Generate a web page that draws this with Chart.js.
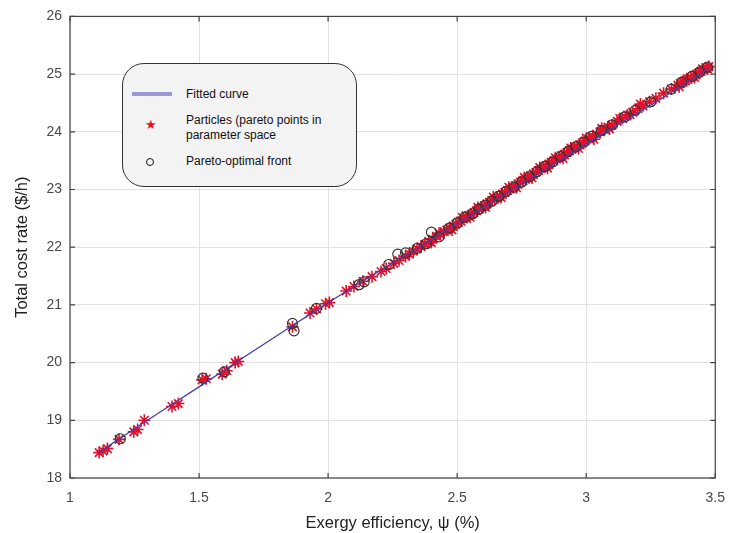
<!DOCTYPE html>
<html>
<head>
<meta charset="utf-8">
<script src="https://cdn.jsdelivr.net/npm/chart.js@4.4.0/dist/chart.umd.min.js"></script>
<style>
  body { margin: 0; background: #fff; }
  #wrap { position: relative; width: 737px; height: 533px; }
  #legendBox {
    position: absolute; left: 122px; top: 63px; width: 233px; height: 122px;
    border: 1.5px solid #333; border-radius: 22px; background: #f3f3f3;
    font-family: "Liberation Sans", Arial, sans-serif; font-size: 12px; color: #111;
  }
  .lg { position: absolute; left: 63px; line-height: 15px; }
</style>
</head>
<body>
<div id="wrap">
  <canvas id="costChart" width="737" height="533"></canvas>
  <div id="legendBox">
    <div style="position:absolute;left:9px;top:28px;width:40px;height:4px;background:#9d98d3;"></div>
    <div class="lg" style="top:23px;">Fitted curve</div>
    <div style="position:absolute;left:22px;top:54px;color:#e8101c;font-size:13px;line-height:14px;">&#9733;</div>
    <div class="lg" style="top:49px;">Particles (pareto points in<br>parameter space</div>
    <div style="position:absolute;left:23px;top:94px;width:6px;height:6px;border:1.5px solid #111;border-radius:50%;"></div>
    <div class="lg" style="top:90px;">Pareto-optimal front</div>
  </div>
</div>
<script>
// fitted curve
var curveX = [1.11, 1.3, 1.5, 1.7, 1.9, 2.1, 2.3, 2.5, 2.7, 2.9, 3.1, 3.3, 3.48];
var curveY = [18.44, 19.0, 19.58, 20.17, 20.75, 21.32, 21.86, 22.41, 22.96, 23.51, 24.06, 24.6, 25.12];

// particles (red stars)
var starX = [1.113, 1.128, 1.145, 1.19, 1.247, 1.262, 1.288, 1.395, 1.42, 1.512, 1.528, 1.59, 1.607, 1.64, 1.652,
  1.862, 1.93, 1.955, 1.99, 2.005, 2.07, 2.10, 2.135, 2.17, 2.205, 2.225, 2.255, 2.275, 2.30, 2.315, 2.33, 2.345,
  2.36, 2.375, 2.39, 2.405, 2.42, 2.435, 2.45, 2.46, 2.47, 2.485, 2.495, 2.505, 2.515, 2.525, 2.535, 2.545, 2.555,
  2.565, 2.575, 2.585, 2.595, 2.605, 2.615, 2.625, 2.635, 2.645, 2.655, 2.665, 2.675, 2.685, 2.695, 2.705, 2.715,
  2.725, 2.735, 2.745, 2.755, 2.765, 2.775, 2.785, 2.795, 2.805, 2.815, 2.825, 2.835, 2.845, 2.855, 2.865, 2.875,
  2.885, 2.895, 2.905, 2.915, 2.925, 2.935, 2.945, 2.955, 2.965, 2.975, 2.985, 2.995, 3.01, 3.025, 3.04, 3.055,
  3.07, 3.085, 3.10, 3.12, 3.14, 3.16, 3.18, 3.20, 3.22, 3.245, 3.27, 3.30, 3.33, 3.355, 3.365, 3.375, 3.385,
  3.395, 3.405, 3.415, 3.425, 3.435, 3.445, 3.455, 3.465, 3.475,
  2.40, 2.43, 2.48, 2.52, 2.55, 2.58, 2.61, 2.64, 2.67, 2.70, 2.73, 2.76, 2.79, 2.82, 2.85, 2.88, 2.91, 2.94,
  2.97, 3.00, 3.03, 3.06, 3.09, 3.13, 3.17, 3.21, 3.36, 3.39, 3.42, 3.45, 3.47];
var starY = [18.44, 18.47, 18.51, 18.67, 18.80, 18.84, 19.00, 19.24, 19.29, 19.70, 19.72, 19.80, 19.86, 20.00, 20.02,
  20.62, 20.86, 20.93, 21.02, 21.04, 21.24, 21.32, 21.41, 21.49, 21.58, 21.63, 21.72, 21.77, 21.84, 21.88, 21.93, 21.97,
  22.01, 22.05, 22.10, 22.14, 22.19, 22.22, 22.27, 22.30, 22.33, 22.37, 22.40, 22.43, 22.45, 22.49, 22.52, 22.55, 22.57,
  22.60, 22.63, 22.66, 22.69, 22.72, 22.75, 22.78, 22.81, 22.83, 22.86, 22.89, 22.92, 22.95, 22.98, 23.01, 23.04,
  23.07, 23.10, 23.13, 23.15, 23.18, 23.21, 23.24, 23.27, 23.30, 23.33, 23.36, 23.39, 23.41, 23.44, 23.47, 23.50,
  23.53, 23.56, 23.59, 23.61, 23.64, 23.67, 23.70, 23.73, 23.75, 23.78, 23.81, 23.84, 23.88, 23.92, 23.96, 24.00,
  24.04, 24.08, 24.12, 24.18, 24.23, 24.29, 24.34, 24.40, 24.45, 24.52, 24.58, 24.67, 24.74, 24.81, 24.84, 24.86, 24.89,
  24.91, 24.94, 24.97, 24.99, 25.02, 25.05, 25.07, 25.10, 25.13,
  22.08, 22.24, 22.30, 22.52, 22.52, 22.69, 22.69, 22.87, 22.86, 23.04, 23.03, 23.21, 23.20, 23.38, 23.37, 23.55, 23.54, 23.72,
  23.71, 23.89, 23.87, 24.06, 24.05, 24.23, 24.30, 24.48, 24.78, 24.92, 24.94, 25.09, 25.09];

// pareto-optimal front (open circles)
var circX = [1.195, 1.515, 1.598, 1.862, 1.868, 1.955, 2.12, 2.14, 2.235, 2.27, 2.30, 2.345, 2.38, 2.40, 2.43, 2.47,
  2.50, 2.53, 2.56, 2.585, 2.61, 2.635, 2.66, 2.69, 2.72, 2.75, 2.78, 2.81, 2.84, 2.87, 2.90, 2.93, 2.96, 2.99,
  3.02, 3.06, 3.10, 3.15, 3.19, 3.25, 3.33, 3.37, 3.41, 3.44, 3.47];
var circY = [18.68, 19.73, 19.84, 20.68, 20.55, 20.94, 21.35, 21.40, 21.70, 21.88, 21.90, 21.98, 22.06, 22.26, 22.18, 22.33,
  22.42, 22.52, 22.58, 22.66, 22.73, 22.80, 22.88, 22.97, 23.04, 23.13, 23.22, 23.31, 23.40, 23.48, 23.57, 23.66, 23.74, 23.82,
  23.92, 24.02, 24.12, 24.26, 24.37, 24.52, 24.74, 24.86, 24.96, 25.04, 25.12];

var xTicks = [1, 1.5, 2, 2.5, 3, 3.5];
var yTicks = [18, 19, 20, 21, 22, 23, 24, 25, 26];

function pairs(xs, ys) {
  return xs.map(function (x, i) { return { x: x, y: ys[i] }; });
}

// box round the plot with inward tick marks, like the original
var boxPlugin = {
  id: "boxPlugin",
  afterDatasetsDraw: function (chart) {
    var a = chart.chartArea, ctx = chart.ctx;
    var xs = chart.scales.x, ys = chart.scales.y;
    ctx.save();
    ctx.strokeStyle = "#444";
    ctx.lineWidth = 1.2;
    ctx.strokeRect(a.left, a.top, a.right - a.left, a.bottom - a.top);
    ctx.beginPath();
    xTicks.forEach(function (v) {
      var p = xs.getPixelForValue(v);
      ctx.moveTo(p, a.bottom); ctx.lineTo(p, a.bottom - 5);
      ctx.moveTo(p, a.top); ctx.lineTo(p, a.top + 5);
    });
    yTicks.forEach(function (v) {
      var p = ys.getPixelForValue(v);
      ctx.moveTo(a.left, p); ctx.lineTo(a.left + 5, p);
      ctx.moveTo(a.right, p); ctx.lineTo(a.right - 5, p);
    });
    ctx.stroke();
    ctx.restore();
  }
};

var ctx = document.getElementById("costChart").getContext("2d");
var costChart = new Chart(ctx, {
  type: "scatter",
  data: {
    datasets: [
      {
        label: "Fitted curve",
        data: pairs(curveX, curveY),
        showLine: true,
        borderColor: "#3f3fb0",
        borderWidth: 1.3,
        pointRadius: 0,
        tension: 0.4,
        order: 0
      },
      {
        label: "Particles (pareto points in parameter space",
        data: pairs(starX, starY),
        pointStyle: "star",
        pointRadius: 6,
        borderColor: "#e4102a",
        borderWidth: 1.6,
        backgroundColor: "#e4102a",
        order: 2
      },
      {
        label: "Pareto-optimal front",
        data: pairs(circX, circY),
        pointStyle: "circle",
        pointRadius: 5,
        borderColor: "#333",
        borderWidth: 1.2,
        backgroundColor: "rgba(0,0,0,0)",
        order: 1
      }
    ]
  },
  options: {
    responsive: false,
    animation: false,
    layout: { padding: { left: 0, top: 16, right: 13, bottom: 0 } },
    plugins: { legend: { display: false }, tooltip: { enabled: false } },
    scales: {
      x: {
        type: "linear",
        min: 1,
        max: 3.5,
        afterFit: function (s) { s.height = 55; },
        afterBuildTicks: function (s) { s.ticks = xTicks.map(function (v) { return { value: v }; }); },
        grid: { color: "#e2e2e2", drawTicks: false },
        border: { display: false },
        ticks: {
          padding: 12,
          color: "#4a4a4a",
          font: { family: "Liberation Sans, Arial", size: 14 },
          callback: function (v) { return String(v); }
        },
        title: {
          display: true,
          text: "Exergy efficiency, \u03c8 (%)",
          color: "#222",
          padding: { top: 1, bottom: 0 },
          font: { family: "Liberation Sans, Arial", size: 16.5 }
        }
      },
      y: {
        type: "linear",
        min: 18,
        max: 26,
        afterFit: function (s) { s.width = 70; },
        afterBuildTicks: function (s) { s.ticks = yTicks.map(function (v) { return { value: v }; }); },
        grid: { color: "#e2e2e2", drawTicks: false },
        border: { display: false },
        ticks: {
          padding: 8,
          color: "#4a4a4a",
          font: { family: "Liberation Sans, Arial", size: 14 },
          callback: function (v) { return String(v); }
        },
        title: {
          display: true,
          text: "Total cost rate ($/h)",
          color: "#222",
          padding: { top: 13, bottom: 0 },
          font: { family: "Liberation Sans, Arial", size: 16.5 }
        }
      }
    }
  },
  plugins: [boxPlugin]
});
</script>
</body>
</html>
